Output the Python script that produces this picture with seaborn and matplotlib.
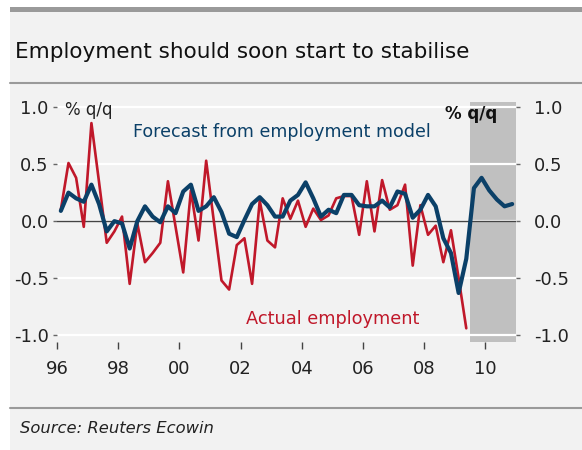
import matplotlib
matplotlib.use('Agg')
import matplotlib.pyplot as plt
import seaborn as sns
import pandas as pd
from matplotlib.patches import Rectangle
from matplotlib.lines import Line2D

# Dados trimestrais (% q/q)
actual_employment = [
    0.10, 0.51, 0.38, -0.05, 0.86, 0.34, -0.19, -0.09, 0.04, -0.55,
    -0.02, -0.36, -0.28, -0.19, 0.35, -0.05, -0.45, 0.27, -0.17, 0.53,
    0.00, -0.52, -0.60, -0.21, -0.15, -0.55, 0.18, -0.17, -0.23, 0.20,
    0.02, 0.18, -0.05, 0.11, 0.01, 0.05, 0.20, 0.22, 0.22, -0.12,
    0.35, -0.09, 0.36, 0.10, 0.14, 0.32, -0.39, 0.14, -0.12, -0.04,
    -0.36, -0.08, -0.50, -0.94,
]
forecast_model = [
    0.09, 0.25, 0.20, 0.17, 0.32, 0.15, -0.09, 0.00, -0.02, -0.24,
    0.00, 0.13, 0.04, -0.01, 0.13, 0.07, 0.26, 0.32, 0.09, 0.13,
    0.21, 0.08, -0.11, -0.14, 0.01, 0.15, 0.21, 0.14, 0.04, 0.04,
    0.18, 0.23, 0.34, 0.20, 0.04, 0.10, 0.07, 0.23, 0.23, 0.14,
    0.13, 0.13, 0.18, 0.12, 0.26, 0.24, 0.03, 0.10, 0.23, 0.13,
    -0.15, -0.28, -0.63, -0.33, 0.29, 0.38, 0.27, 0.19, 0.13, 0.15,
]
inicio = '1996Q1'
x_ticks = [1996, 1998, 2000, 2002, 2004, 2006, 2008, 2010]
x_labels = ['96', '98', '00', '02', '04', '06', '08', '10']
y_ticks = [-1.0, -0.5, 0.0, 0.5, 1.0]
y_labels = ['-1.0', '-0.5', '0.0', '0.5', '1.0']
previsao_ini, previsao_fim = 2009.5, 2011.0

# Datas em anos decimais (meio do trimestre)
def anos(n):
    p = pd.period_range(inicio, periods=n, freq='Q')
    return p.year + (p.quarter - 1) / 4 + 0.125

df_act = pd.DataFrame({'ano': anos(len(actual_employment)), 'valor': actual_employment})
df_fc = pd.DataFrame({'ano': anos(len(forecast_model)), 'valor': forecast_model})

sns.set_style('white')
plt.rcParams['font.family'] = ['DejaVu Sans']

VERMELHO = '#c0182a'
AZUL = '#0b4068'
FUNDO = '#f2f2f2'

W, H = 582, 450
fig = plt.figure(figsize=(W / 100, H / 100), dpi=100, facecolor='white')

# Painel cinza claro e barras
fig.add_artist(Rectangle((10 / W, 0), 1 - 10 / W, 1 - 7 / H, transform=fig.transFigure,
                         facecolor=FUNDO, edgecolor='none', zorder=0))
fig.add_artist(Rectangle((10 / W, 1 - 12 / H), 1 - 10 / W, 5 / H, transform=fig.transFigure,
                         facecolor='#9a9a9a', edgecolor='none', zorder=1))
for yy in [83, 408]:
    fig.add_artist(Line2D([10 / W, 1], [1 - yy / H] * 2, transform=fig.transFigure,
                          color='#9a9a9a', lw=1.5, zorder=1))

fig.text(15 / W, 1 - 58 / H, 'Employment should soon start to stabilise',
         fontsize=15.5, color='#111111', va='baseline', ha='left')
fig.text(20 / W, 1 - 433 / H, 'Source: Reuters Ecowin', fontsize=11.8,
         style='italic', color='#222222', va='baseline', ha='left')

ax = fig.add_axes([57 / W, 1 - 342 / H, (516 - 57) / W, (342 - 102) / H])
ax.set_facecolor(FUNDO)

ax.axvspan(previsao_ini, previsao_fim, color='#c0c0c0', lw=0, zorder=0.2)
ax.set_axisbelow(True)
ax.grid(axis='y', color='white', lw=1.6)
ax.grid(axis='x', visible=False)
ax.axhline(0, color='#444444', lw=1, zorder=1)

sns.lineplot(data=df_act, x='ano', y='valor', ax=ax, color=VERMELHO, lw=1.9, zorder=2)
sns.lineplot(data=df_fc, x='ano', y='valor', ax=ax, color=AZUL, lw=3.0, zorder=3,
             solid_joinstyle='round', solid_capstyle='round')

ax.set_xlim(1996, 2011)
ax.set_ylim(-1.06, 1.045)
ax.set_xticks(x_ticks)
ax.set_xticklabels(x_labels)
ax.set_yticks(y_ticks)
ax.set_yticklabels(y_labels)
ax.set_xlabel('')
ax.set_ylabel('')
for s in ax.spines.values():
    s.set_visible(False)

ax.tick_params(axis='x', direction='out', length=5, width=1, color='#444444',
               labelsize=13, labelcolor='#222222', pad=8, bottom=True)
ax.tick_params(axis='y', direction='out', length=3, width=1, color='#666666',
               labelsize=13, labelcolor='#222222', pad=3, left=True)

ax2 = ax.twinx()
ax2.set_ylim(ax.get_ylim())
ax2.set_yticks(y_ticks)
ax2.set_yticklabels(y_labels)
for s in ax2.spines.values():
    s.set_visible(False)
ax2.tick_params(axis='y', direction='out', length=3, width=1, color='#666666',
                labelsize=13, labelcolor='#222222', pad=10, right=True)

ax.text(1996.26, 0.93, '% q/q', fontsize=12, color='#222222', va='baseline')
ax.text(2008.68, 0.90, '% q/q', fontsize=12, fontweight='bold', color='#111111', va='baseline')
ax.text(1998.48, 0.74, 'Forecast from employment model', fontsize=12.6, color=AZUL, va='baseline')
ax.text(2002.18, -0.90, 'Actual employment', fontsize=12.8, color=VERMELHO, va='baseline')

fig.savefig('out.png', dpi=100, facecolor='white')
plt.close(fig)
